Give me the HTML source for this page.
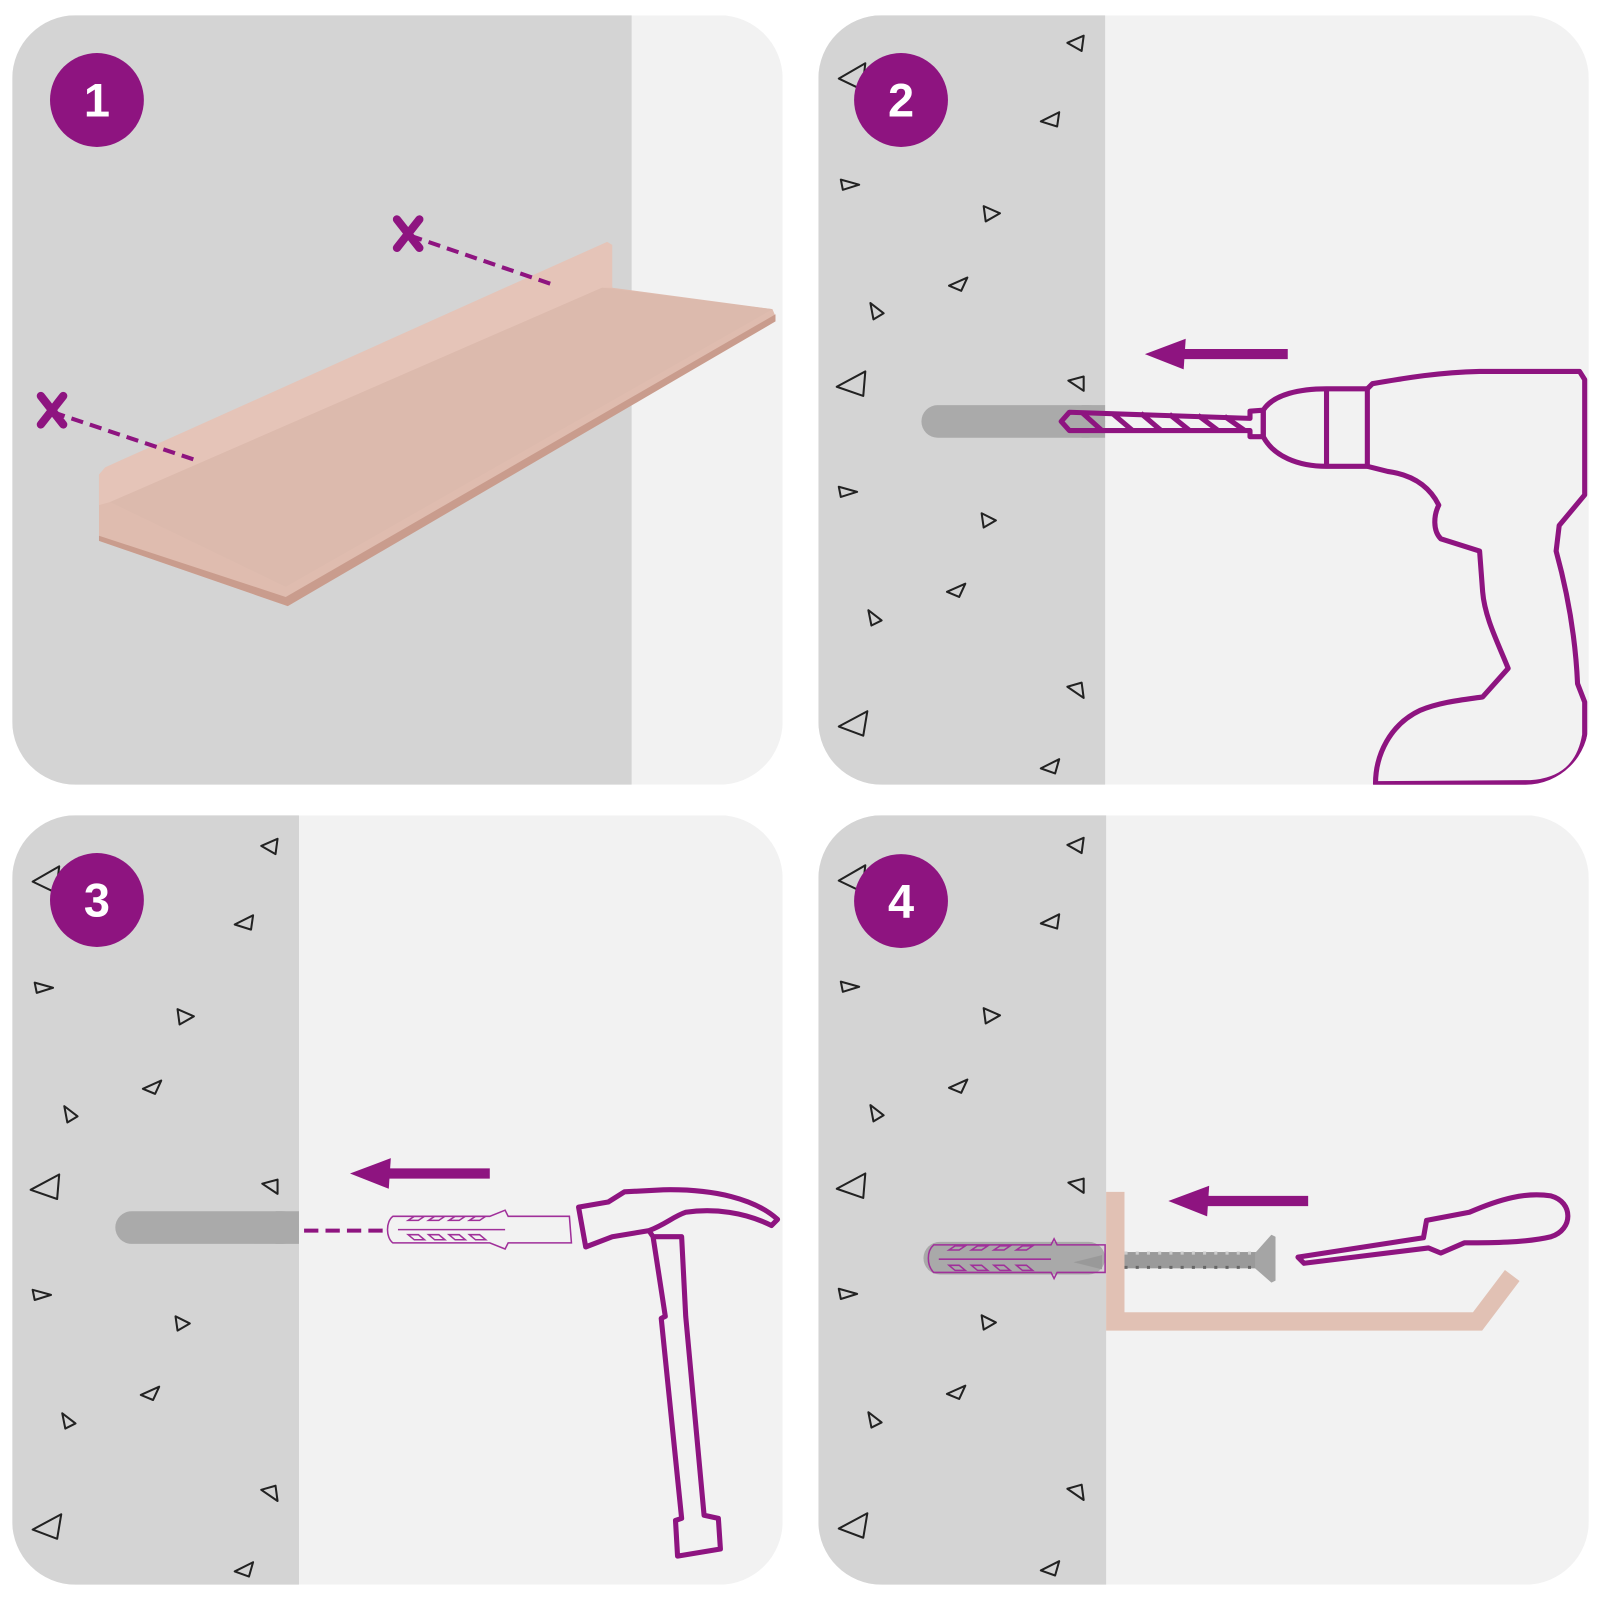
<!DOCTYPE html>
<html><head><style>html,body{margin:0;padding:0;background:#fff}svg{display:block}</style></head><body>
<svg width="1600" height="1600" viewBox="0 0 1568 1568" xmlns="http://www.w3.org/2000/svg">
<defs>
<clipPath id="c1"><rect x="12" y="15" width="755" height="754" rx="62"/></clipPath>
<clipPath id="c2"><rect x="802" y="15" width="755" height="754" rx="62"/></clipPath>
<clipPath id="c3"><rect x="12" y="799" width="755" height="754" rx="62"/></clipPath>
<clipPath id="c4"><rect x="802" y="799" width="755" height="754" rx="62"/></clipPath>
<g id="tris" fill="none" stroke="#222" stroke-width="2" stroke-linejoin="round">
<path d="M1046,42 L1062,35 L1060,50 Z"/>
<path d="M822,77 L848,62 L845,88 Z"/>
<path d="M1020,119 L1038,110 L1036,124 Z"/>
<path d="M824,176 L842,181 L826,186 Z"/>
<path d="M964,202 L980,209 L966,217 Z"/>
<path d="M930,280 L948,272 L942,285 Z"/>
<path d="M853,297 L866,307 L856,313 Z"/>
<path d="M820,379 L848,364 L846,388 Z"/>
<path d="M1047,373 L1062,369 L1062,383 Z"/>
<path d="M822,477 L840,482 L824,487 Z"/>
<path d="M962,503 L976,510 L964,517 Z"/>
<path d="M928,580 L946,572 L940,585 Z"/>
<path d="M851,598 L864,608 L854,613 Z"/>
<path d="M1046,673 L1060,669 L1062,684 Z"/>
<path d="M822,712 L850,697 L846,721 Z"/>
<path d="M1020,753 L1038,744 L1034,758 Z"/>
</g>
</defs>
<rect width="1568" height="1568" fill="#fff"/>
<g clip-path="url(#c1)">
<rect x="12" y="15" width="755" height="754" fill="#f2f2f2"/>
<rect x="12" y="15" width="607" height="754" fill="#d4d4d4"/>
<path d="M97,465 L595,240 L600,282 L757,303 L760,310 L282,594 L97,530 Z" fill="#dfbcaf"/>
<path d="M97,465 L103,458 L595,237 L600,240 L600,282 L590,282 L108,492 L97,495 Z" fill="#e5c4b8"/>
<path d="M108,492 L590,282 L757,303 L280,575 Z" fill="#dcbaad"/>
<path d="M97,525 L280,585 L760,308 L760,315 L282,594 L97,530 Z" fill="#c99c8d"/>
<g stroke="#8e1480" stroke-width="4" stroke-dasharray="12 7" fill="none"><line x1="52" y1="404" x2="195" y2="452"/><line x1="402" y1="231" x2="545" y2="280"/></g>
<g stroke="#8e1480" stroke-width="8" stroke-linecap="round"><line x1="40" y1="388" x2="62" y2="416"/><line x1="62" y1="388" x2="40" y2="416"/><line x1="389" y1="215" x2="411" y2="243"/><line x1="411" y1="215" x2="389" y2="243"/></g>
<circle cx="95" cy="98" r="46" fill="#8e1480"/>
<text x="95" y="114" fill="#fff" font-family="Liberation Sans, sans-serif" font-weight="bold" font-size="46" text-anchor="middle">1</text>
</g>
<g clip-path="url(#c2)">
<rect x="802" y="15" width="755" height="754" fill="#f2f2f2"/>
<rect x="802" y="15" width="281" height="754" fill="#d4d4d4"/>
<use href="#tris"/>
<rect x="903" y="397" width="180" height="32" rx="16" fill="#aaaaaa"/>
<rect x="1060" y="397" width="23" height="32" fill="#aaaaaa"/>
<g fill="none" stroke="#8e1480" stroke-width="5" stroke-linejoin="round">
<path d="M1048,404 L1225,410 L1225,403 L1238,402 L1238,428 L1225,428 L1225,422 L1048,422 L1040,413 Z"/>
<path d="M1060,404 L1080,422 M1090,405 L1110,422 M1118,405 L1138,422 M1146,406 L1166,422 M1174,407 L1194,422 M1200,408 L1220,422"/>
<path d="M1238,402 C1248,386 1275,381 1300,381 L1340,381 L1340,457 L1300,457 C1272,457 1248,447 1238,428 Z"/>
<path d="M1300,381 L1300,457"/>
<path d="M1340,381 L1345,376 C1380,370 1410,365 1450,364 L1548,364 L1553,372 L1553,485 L1528,515 L1525,540 C1536,580 1544,625 1546,670 L1553,688 L1553,720 C1548,750 1530,765 1500,767 L1348,768 C1348,740 1362,710 1392,696 C1412,688 1432,686 1453,683 L1478,655 C1468,630 1455,605 1453,580 L1450,540 L1412,528 C1404,520 1405,505 1410,495 C1400,475 1382,465 1360,462 L1340,457"/>
</g>
<line x1="1262" y1="347" x2="1150" y2="347" stroke="#8e1480" stroke-width="10"/>
<path d="M1122,347 L1162,332 L1160,362 Z" fill="#8e1480"/>
<circle cx="883" cy="98" r="46" fill="#8e1480"/>
<text x="883" y="114" fill="#fff" font-family="Liberation Sans, sans-serif" font-weight="bold" font-size="46" text-anchor="middle">2</text>
</g>
<g clip-path="url(#c3)">
<rect x="12" y="799" width="755" height="754" fill="#f2f2f2"/>
<rect x="12" y="799" width="281" height="754" fill="#d4d4d4"/>
<use href="#tris" transform="translate(-790,787)"/>
<rect x="113" y="1187" width="180" height="32" rx="16" fill="#aaaaaa"/>
<rect x="270" y="1187" width="23" height="32" fill="#aaaaaa"/>
<line x1="298" y1="1206" x2="378" y2="1206" stroke="#8e1480" stroke-width="4" stroke-dasharray="14 7"/>
<g fill="none" stroke="#a0309a" stroke-width="1.5">
<path d="M385,1192 L480,1192 L495,1186 L498,1192 L558,1192 L560,1218 L498,1218 L495,1224 L480,1218 L385,1218 C378,1213 378,1197 385,1192 Z"/>
<path d="M390,1205 L495,1205 M400,1196 l6,-4 l10,0 l-6,4 Z M420,1196 l6,-4 l10,0 l-6,4 Z M440,1196 l6,-4 l10,0 l-6,4 Z M460,1196 l6,-4 l10,0 l-6,4 Z M400,1210 l6,5 l10,0 l-6,-5 Z M420,1210 l6,5 l10,0 l-6,-5 Z M440,1210 l6,5 l10,0 l-6,-5 Z M460,1210 l6,5 l10,0 l-6,-5 Z"/>
</g>
<g fill="none" stroke="#8e1480" stroke-width="5" stroke-linejoin="round">
<path d="M567,1183 L596,1178 L612,1168 L650,1166 C700,1165 740,1175 762,1195 L756,1201 C730,1188 700,1184 672,1188 C660,1192 652,1200 636,1206 L640,1212 L652,1290 L648,1292 L668,1488 L662,1490 L664,1525 L706,1518 L704,1488 L690,1485 L672,1290 L668,1212 L640,1212 L636,1206 L600,1212 L574,1222 Z"/>
</g>
<line x1="480" y1="1150" x2="372" y2="1150" stroke="#8e1480" stroke-width="10"/>
<path d="M343,1150 L383,1135 L381,1165 Z" fill="#8e1480"/>
<circle cx="95" cy="882" r="46" fill="#8e1480"/>
<text x="95" y="898" fill="#fff" font-family="Liberation Sans, sans-serif" font-weight="bold" font-size="46" text-anchor="middle">3</text>
</g>
<g clip-path="url(#c4)">
<rect x="802" y="799" width="755" height="754" fill="#f2f2f2"/>
<rect x="802" y="799" width="282" height="754" fill="#d4d4d4"/>
<use href="#tris" transform="translate(0,786)"/>
<path d="M1093,1168 L1093,1295 L1448,1295 L1482,1250" fill="none" stroke="#e1c1b4" stroke-width="18"/>
<rect x="905" y="1217" width="178" height="32" rx="16" fill="#a9a9a9"/>
<g fill="none" stroke="#a0309a" stroke-width="1.5">
<path d="M915,1220 L1030,1220 L1033,1214 L1036,1220 L1083,1220 L1083,1247 L1036,1247 L1033,1253 L1030,1247 L915,1247 C908,1240 908,1226 915,1220 Z"/>
<path d="M920,1234 L1030,1234 M930,1225 l6,-4 l10,0 l-6,4 Z M952,1225 l6,-4 l10,0 l-6,4 Z M974,1225 l6,-4 l10,0 l-6,4 Z M996,1225 l6,-4 l10,0 l-6,4 Z M930,1240 l6,5 l10,0 l-6,-5 Z M952,1240 l6,5 l10,0 l-6,-5 Z M974,1240 l6,5 l10,0 l-6,-5 Z M996,1240 l6,5 l10,0 l-6,-5 Z"/>
</g>
<path d="M1052,1237 L1080,1230 L1080,1244 Z" fill="#999"/>
<rect x="1102" y="1227" width="140" height="16" fill="#9a9a9a"/>
<path d="M1102,1228 L1242,1228" stroke="#ccc" stroke-width="3" stroke-dasharray="3 8"/>
<path d="M1102,1242 L1242,1242" stroke="#666" stroke-width="3" stroke-dasharray="3 8"/>
<path d="M1230,1228 L1246,1210 L1250,1212 L1250,1255 L1246,1257 L1230,1243 Z" fill="#a5a5a5"/>
<g fill="none" stroke="#8e1480" stroke-width="5" stroke-linejoin="round">
<path d="M1272,1232 L1395,1213 L1398,1196 L1440,1188 C1470,1175 1495,1168 1520,1172 C1542,1178 1542,1205 1520,1212 C1495,1218 1460,1218 1435,1218 L1412,1228 L1400,1223 L1278,1238 Z"/>
</g>
<line x1="1282" y1="1177" x2="1173" y2="1177" stroke="#8e1480" stroke-width="10"/>
<path d="M1145,1177 L1185,1162 L1183,1192 Z" fill="#8e1480"/>
<circle cx="883" cy="883" r="46" fill="#8e1480"/>
<text x="883" y="899" fill="#fff" font-family="Liberation Sans, sans-serif" font-weight="bold" font-size="46" text-anchor="middle">4</text>
</g>
</svg>
</body></html>
